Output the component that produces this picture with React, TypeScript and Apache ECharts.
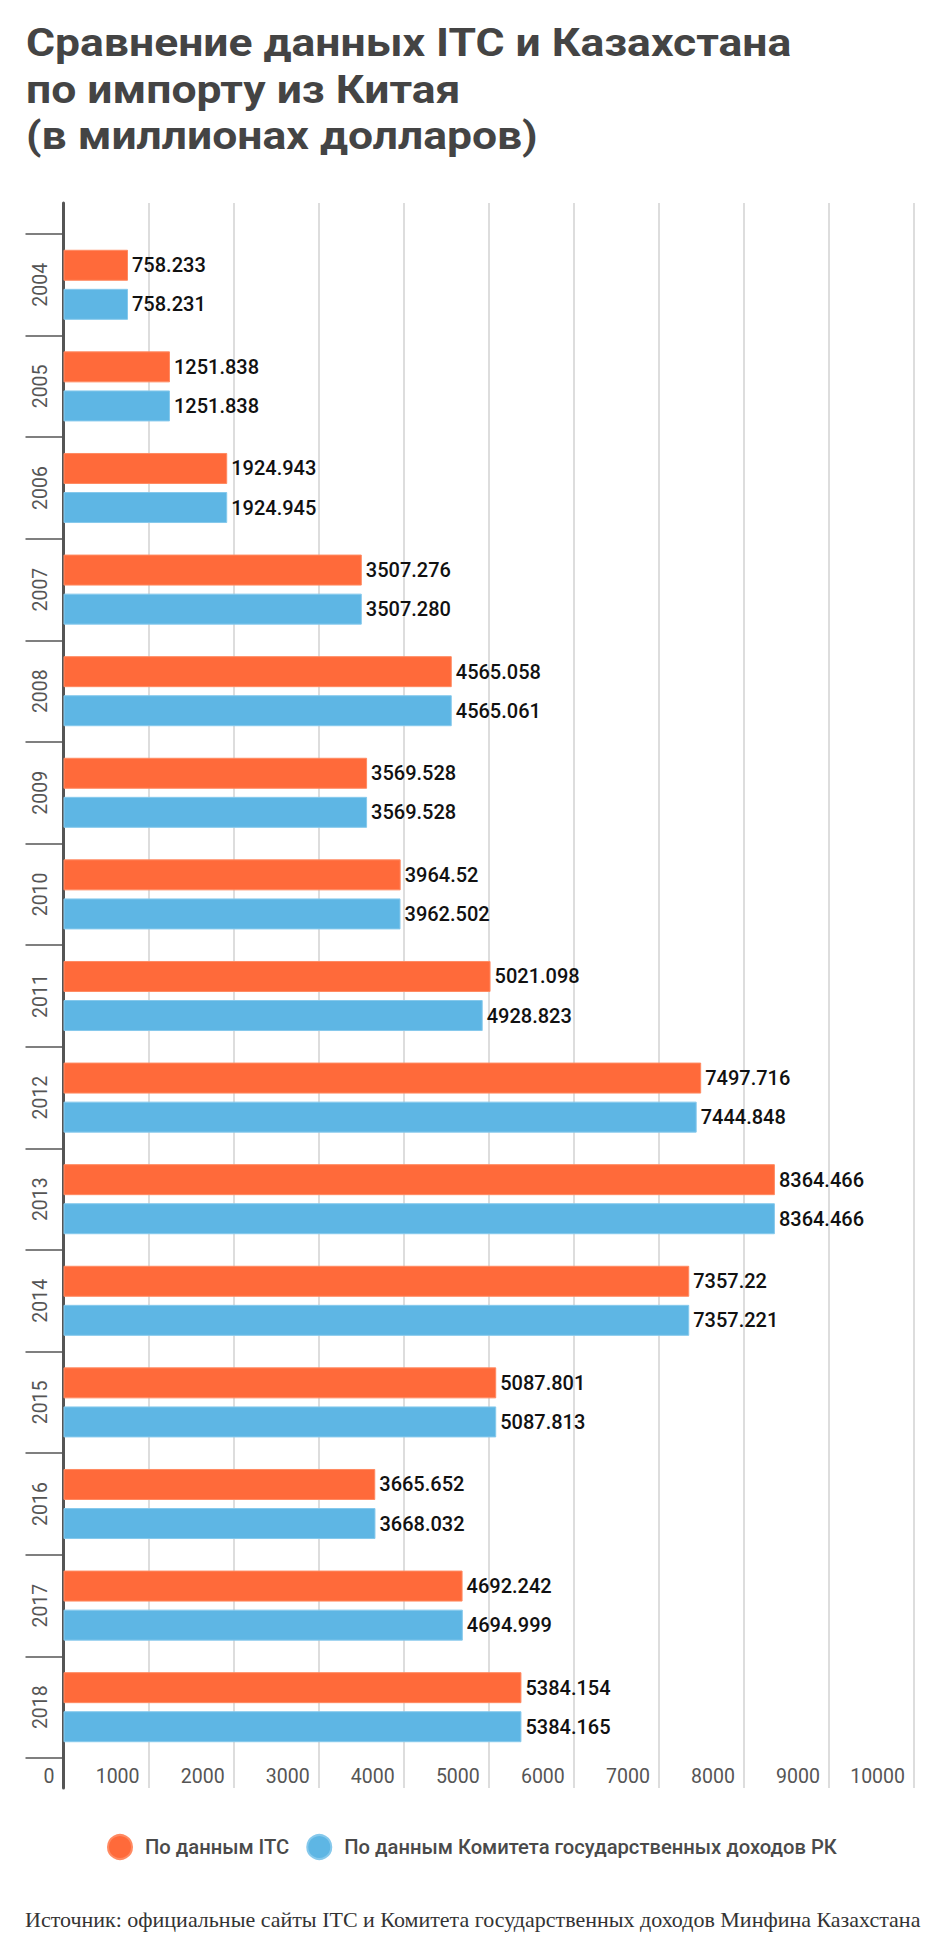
import React, { useEffect, useRef } from "react";
import * as echarts from "echarts";

const years = ["2004","2005","2006","2007","2008","2009","2010","2011","2012","2013","2014","2015","2016","2017","2018"];
const itcLabels = ["758.233","1251.838","1924.943","3507.276","4565.058","3569.528","3964.52","5021.098","7497.716","8364.466","7357.22","5087.801","3665.652","4692.242","5384.154"];
const krgdLabels = ["758.231","1251.838","1924.945","3507.280","4565.061","3569.528","3962.502","4928.823","7444.848","8364.466","7357.221","5087.813","3668.032","4694.999","5384.165"];
const seriesNames = ["По данным ITC", "По данным Комитета государственных доходов РК"];
const xTicks = [0, 1000, 2000, 3000, 4000, 5000, 6000, 7000, 8000, 9000, 10000];

const titleLines = ["Сравнение данных ITC и Казахстана", "по импорту из Китая", "(в миллионах долларов)"];
const sourceText = "Источник: официальные сайты ITC и Комитета государственных доходов Минфина Казахстана";

const ORANGE = "#FF6A3A";
const BLUE = "#5EB6E4";
const FONT = "Roboto";

export default function App() {
  const ref = useRef<HTMLDivElement>(null);
  useEffect(() => {
    if (!ref.current) return;
    const chart = echarts.init(ref.current, null, { renderer: "svg" });
    const left = 63.5;
    const right = 941 - 914;
    const xMin = xTicks[0];
    const xMax = xTicks[xTicks.length - 1];
    const interval = xTicks[1] - xTicks[0];
    const mkSeries = (name: string, labels: string[], color: string, border: string) => ({
      name,
      type: "bar",
      xAxisIndex: 1,
      yAxisIndex: 1,
      barWidth: 31,
      barGap: "26%",
      data: labels.map((s) => Number(s)),
      itemStyle: { color, borderColor: border, borderWidth: 1 },
      label: {
        show: true,
        position: "right",
        distance: 4,
        color: "#111",
        fontFamily: FONT,
        fontWeight: 500,
        fontSize: 20,
        formatter: (p: any) => labels[p.dataIndex],
      },
    });
    chart.setOption({
      animation: false,
      backgroundColor: "#fff",
      legend: {
        left: 102,
        top: 1829,
        icon: "circle",
        itemWidth: 24,
        itemHeight: 24,
        itemGap: 17,
        data: seriesNames,
        textStyle: {
          fontFamily: FONT,
          fontSize: 20.2,
          fontWeight: 500,
          color: "#4a4a4a",
          padding: [0, 0, 0, 8],
        },
      },
      grid: [
        { left, right, top: 203, height: 1585 },
        { left, right, top: 234, height: 1524 },
      ],
      xAxis: [
        {
          type: "value",
          gridIndex: 0,
          min: xMin,
          max: xMax,
          interval,
          axisLine: { show: false },
          axisTick: { show: false },
          splitLine: { show: true, lineStyle: { color: "#dddddd", width: 2 } },
          axisLabel: {
            show: true,
            margin: -22,
            align: "right",
            padding: [0, 9, 0, 0],
            fontFamily: FONT,
            fontSize: 19.5,
            color: "#555",
            showMinLabel: true,
            showMaxLabel: true,
            formatter: (v: number) => String(v),
          },
        },
        { type: "value", gridIndex: 1, min: xMin, max: xMax, interval, show: false },
      ],
      yAxis: [
        {
          type: "value",
          gridIndex: 0,
          axisLine: { show: true, lineStyle: { color: "#555", width: 3 } },
          axisTick: { show: false },
          axisLabel: { show: false },
          splitLine: { show: false },
        },
        {
          type: "category",
          gridIndex: 1,
          inverse: true,
          data: years,
          axisLine: { show: false },
          axisTick: { show: true, length: 38, lineStyle: { color: "#555", width: 1.5 } },
          axisLabel: {
            rotate: 90,
            margin: 13,
            fontFamily: FONT,
            fontSize: 19.5,
            color: "#555",
          },
        },
      ],
      series: [
        mkSeries(seriesNames[0], itcLabels, ORANGE, "#FF8A62"),
        mkSeries(seriesNames[1], krgdLabels, BLUE, "#86C9EC"),
      ],
      graphic: [
        {
          type: "text",
          x: 26,
          y: 20,
          scaleX: 1.17,
          style: {
            x: 0,
            y: 0,
            text: titleLines.join("\n"),
            font: 'bold 38px Roboto',
            lineHeight: 46.5,
            fill: "#444",
          },
        },
        {
          type: "text",
          x: 25,
          y: 1919,
          style: {
            x: 0,
            y: 0,
            text: sourceText,
            font: '22px "Liberation Serif", "Times New Roman", serif',
            fill: "#333",
            verticalAlign: "middle",
          },
        },
      ],
    });
    return () => chart.dispose();
  }, []);
  return (
    <div
      ref={ref}
      style={{ position: "absolute", left: 0, top: 0, width: 941, height: 1945 }}
    />
  );
}
